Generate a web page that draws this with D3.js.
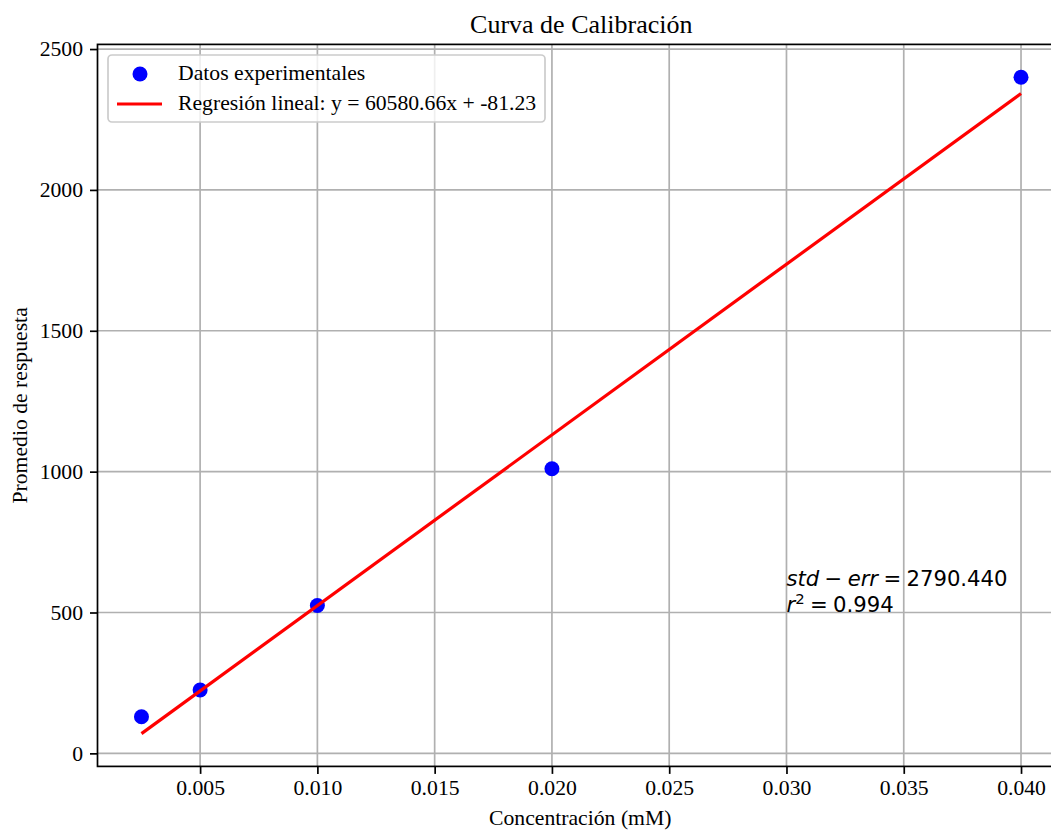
<!DOCTYPE html>
<html>
<head>
<meta charset="utf-8">
<script src="https://cdn.jsdelivr.net/npm/d3@7/dist/d3.min.js"></script>
<style>
  html, body { margin: 0; padding: 0; background: #fff; }
  svg { display: block; }
  .serif { font-family: "Liberation Serif", "Times New Roman", serif; }
</style>
</head>
<body>
<svg id="chart" width="1051" height="831"></svg>
<script>
// Calibration measurements
const concentrations = [0.0025, 0.005, 0.010, 0.020, 0.040];
const responses = [130, 225, 525, 1010, 2400];

// Fitted linear regression
const slope = 60580.66;
const intercept = -81.23;
const stdErr = 2790.440;
const rSquared = 0.994;

// Axis ticks
const xTicks = [0.005, 0.010, 0.015, 0.020, 0.025, 0.030, 0.035, 0.040];
const yTicks = [0, 500, 1000, 1500, 2000, 2500];

const svg = d3.select("#chart");
const plot = { left: 97.5, right: 1065, top: 44.4, bottom: 766.4 };

// Domains padded by 5% of the data range
const fitLine = [d3.min(concentrations), d3.max(concentrations)].map(x => ({ x, y: slope * x + intercept }));
const xExt = d3.extent(concentrations);
const yExt = d3.extent(responses.concat(fitLine.map(d => d.y)));
const xPad = (xExt[1] - xExt[0]) * 0.05;
const yPad = (yExt[1] - yExt[0]) * 0.05;

const x = d3.scaleLinear().domain([xExt[0] - xPad, xExt[1] + xPad]).range([plot.left, plot.right]);
const y = d3.scaleLinear().domain([yExt[0] - yPad, yExt[1] + yPad]).range([plot.bottom, plot.top]);

const FONT = 21.7;
const MATH_FONT = 21.2;
const MATH_SP = "\u2005"; // medium math space around operators

// Grid
const grid = svg.append("g").attr("stroke", "#b0b0b0").attr("stroke-width", 1.7);
grid.selectAll("line.vx").data(xTicks).join("line")
  .attr("x1", d => x(d)).attr("x2", d => x(d))
  .attr("y1", plot.top).attr("y2", plot.bottom);
grid.selectAll("line.hy").data(yTicks).join("line")
  .attr("x1", plot.left).attr("x2", plot.right)
  .attr("y1", d => y(d)).attr("y2", d => y(d));

// Axes
const xAxis = svg.append("g")
  .attr("transform", `translate(0,${plot.bottom})`)
  .call(d3.axisBottom(x).tickValues(xTicks).tickFormat(d3.format(".3f")).tickSize(7.5).tickPadding(6));
const yAxis = svg.append("g")
  .attr("transform", `translate(${plot.left},0)`)
  .call(d3.axisLeft(y).tickValues(yTicks).tickFormat(d3.format("d")).tickSize(7.5).tickPadding(7));

[xAxis, yAxis].forEach(g => {
  g.select(".domain").remove();
  g.selectAll(".tick line").attr("stroke", "#000").attr("stroke-width", 1.7);
  g.selectAll(".tick text")
    .attr("class", "serif")
    .attr("font-size", FONT)
    .attr("fill", "#000");
});
xAxis.selectAll(".tick text").attr("dy", "0.71em");
yAxis.selectAll(".tick text").attr("dy", "0.32em");

// Spines
const spines = svg.append("g").attr("stroke", "#000").attr("stroke-width", 1.7).attr("fill", "none");
spines.append("rect")
  .attr("x", plot.left).attr("y", plot.top)
  .attr("width", plot.right - plot.left).attr("height", plot.bottom - plot.top);

// Data points
svg.append("g").selectAll("circle").data(concentrations).join("circle")
  .attr("cx", (d) => x(d))
  .attr("cy", (d, i) => y(responses[i]))
  .attr("r", 7.5)
  .attr("fill", "#0000ff");

// Regression line
svg.append("path")
  .datum(fitLine)
  .attr("fill", "none")
  .attr("stroke", "#ff0000")
  .attr("stroke-width", 3.2)
  .attr("d", d3.line().x(d => x(d.x)).y(d => y(d.y)));

// Fit statistics
const stats = svg.append("text")
  .attr("font-family", "DejaVu Sans, sans-serif")
  .attr("font-size", MATH_FONT)
  .attr("fill", "#000")
  .attr("x", x(0.030))
  .attr("y", y(500) - 27);
stats.append("tspan").attr("font-style", "italic").text("std");
stats.append("tspan").text(MATH_SP + "\u2212" + MATH_SP);
stats.append("tspan").attr("font-style", "italic").text("err");
stats.append("tspan").text(MATH_SP + "=" + MATH_SP + stdErr.toFixed(3));

const r2 = svg.append("text")
  .attr("font-family", "DejaVu Sans, sans-serif")
  .attr("font-size", MATH_FONT)
  .attr("fill", "#000")
  .attr("x", x(0.030))
  .attr("y", y(500) - 1);
r2.append("tspan").attr("font-style", "italic").text("r");
r2.append("tspan").attr("font-size", MATH_FONT * 0.7).attr("dy", -8).text("2");
r2.append("tspan").attr("dy", 8).text(MATH_SP + "=" + MATH_SP + rSquared.toFixed(3));

// Title and axis labels
svg.append("text").attr("class", "serif")
  .attr("x", (plot.left + plot.right) / 2).attr("y", 33)
  .attr("text-anchor", "middle").attr("font-size", 26)
  .text("Curva de Calibración");

svg.append("text").attr("class", "serif")
  .attr("x", (plot.left + plot.right) / 2 - 1).attr("y", 825)
  .attr("text-anchor", "middle").attr("font-size", FONT)
  .text("Concentración (mM)");

svg.append("text").attr("class", "serif")
  .attr("transform", `translate(27,${(plot.top + plot.bottom) / 2}) rotate(-90)`)
  .attr("text-anchor", "middle").attr("font-size", FONT)
  .text("Promedio de respuesta");

// Legend
const legend = svg.append("g");
legend.append("rect")
  .attr("x", 108).attr("y", 55).attr("width", 437).attr("height", 67)
  .attr("rx", 4).attr("ry", 4)
  .attr("fill", "rgba(255,255,255,0.8)")
  .attr("stroke", "#cccccc").attr("stroke-width", 1.7);
legend.append("circle").attr("cx", 140).attr("cy", 74).attr("r", 7.5).attr("fill", "#0000ff");
legend.append("line").attr("x1", 117).attr("x2", 162).attr("y1", 104).attr("y2", 104)
  .attr("stroke", "#ff0000").attr("stroke-width", 3.2);
legend.append("text").attr("class", "serif").attr("x", 178).attr("y", 80)
  .attr("font-size", FONT).text("Datos experimentales");
legend.append("text").attr("class", "serif").attr("x", 178).attr("y", 110)
  .attr("font-size", FONT)
  .text(`Regresión lineal: y = ${slope.toFixed(2)}x + ${intercept.toFixed(2)}`);
</script>
</body>
</html>
